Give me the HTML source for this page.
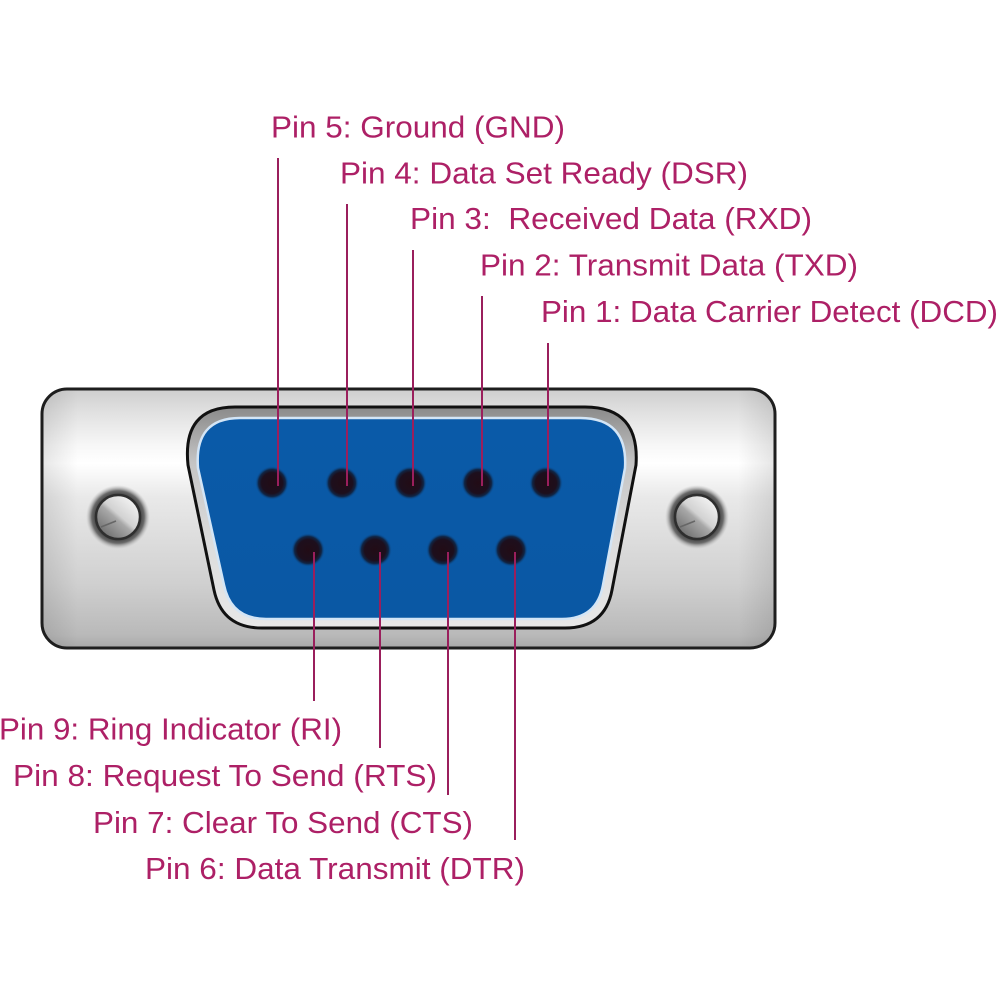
<!DOCTYPE html>
<html>
<head>
<meta charset="utf-8">
<style>
  html, body { margin:0; padding:0; background:#ffffff; }
  svg { display:block; }
  text { font-family: "Liberation Sans", "DejaVu Sans", sans-serif; font-size:30.5px; fill:#ad2066; white-space:pre; }
</style>
</head>
<body>
<svg width="1000" height="1000" viewBox="0 0 1000 1000" xmlns="http://www.w3.org/2000/svg">
  <defs>
    <linearGradient id="shell" x1="0" y1="388" x2="0" y2="648" gradientUnits="userSpaceOnUse">
      <stop offset="0" stop-color="#cdcdcd"/>
      <stop offset="0.08" stop-color="#dedede"/>
      <stop offset="0.22" stop-color="#f7f7f7"/>
      <stop offset="0.29" stop-color="#ffffff"/>
      <stop offset="0.42" stop-color="#e9e9e9"/>
      <stop offset="0.75" stop-color="#d0d0d0"/>
      <stop offset="0.95" stop-color="#b9b9b9"/>
      <stop offset="1" stop-color="#a8a8a8"/>
    </linearGradient>
    <linearGradient id="shellH" x1="41" y1="0" x2="775" y2="0" gradientUnits="userSpaceOnUse">
      <stop offset="0" stop-color="#000" stop-opacity="0.10"/>
      <stop offset="0.05" stop-color="#000" stop-opacity="0"/>
      <stop offset="0.95" stop-color="#000" stop-opacity="0"/>
      <stop offset="1" stop-color="#000" stop-opacity="0.10"/>
    </linearGradient>
    <linearGradient id="bezel" x1="0" y1="407" x2="0" y2="628" gradientUnits="userSpaceOnUse">
      <stop offset="0" stop-color="#8a8a8a"/>
      <stop offset="0.25" stop-color="#c4c4c4"/>
      <stop offset="0.6" stop-color="#dcdcdc"/>
      <stop offset="1" stop-color="#e8e8e8"/>
    </linearGradient>
    <linearGradient id="blue" x1="0" y1="418" x2="0" y2="619" gradientUnits="userSpaceOnUse">
      <stop offset="0" stop-color="#0a5aa8"/>
      <stop offset="1" stop-color="#0a58a4"/>
    </linearGradient>
    <radialGradient id="pin" cx="0.5" cy="0.5" r="0.5">
      <stop offset="0" stop-color="#220c16"/>
      <stop offset="0.62" stop-color="#1d0f1d"/>
      <stop offset="0.8" stop-color="#102646"/>
      <stop offset="1" stop-color="#0a5aa8" stop-opacity="0"/>
    </radialGradient>
    <radialGradient id="screwRing" cx="0.5" cy="0.5" r="0.5">
      <stop offset="0" stop-color="#3a3a3a"/>
      <stop offset="0.7" stop-color="#444"/>
      <stop offset="0.82" stop-color="#6a6a6a"/>
      <stop offset="1" stop-color="#bdbdbd" stop-opacity="0"/>
    </radialGradient>
    <linearGradient id="screwFace" x1="0.85" y1="0.1" x2="0.15" y2="0.9">
      <stop offset="0" stop-color="#f4f4f4"/>
      <stop offset="0.45" stop-color="#d2d2d2"/>
      <stop offset="0.55" stop-color="#a8a8a8"/>
      <stop offset="1" stop-color="#6e6e6e"/>
    </linearGradient>
  </defs>

  <!-- outer shell -->
  <rect x="42" y="389" width="733" height="259" rx="25" ry="25" fill="url(#shell)" stroke="#1e1e1e" stroke-width="3"/>
  <rect x="43.5" y="390.5" width="730" height="256" rx="24" ry="24" fill="url(#shellH)"/>

  <!-- D-shape bezel -->
  <path d="M 235 407 L 585 407 Q 640 407 636 465 L 612 590 Q 605 628 565 628 L 262 628 Q 222 628 214 590 L 188 465 Q 182 407 235 407 Z"
        fill="url(#bezel)" stroke="#111" stroke-width="3"/>
  <path d="M 240 418 L 580 418 Q 628 418 625 468 L 603 585 Q 597 619 562 619 L 266 619 Q 231 619 224 585 L 198 468 Q 194 418 240 418 Z"
        fill="url(#blue)" stroke="#d3e5f6" stroke-width="2.5"/>

  <!-- screws -->
  <g>
    <circle cx="118" cy="517" r="32" fill="url(#screwRing)"/>
    <circle cx="118" cy="517" r="22" fill="url(#screwFace)" stroke="#2e2e2e" stroke-width="2.5"/>
    <path d="M 101 527 L 116 521" stroke="#666" stroke-width="1.5" fill="none"/>
  </g>
  <g>
    <circle cx="697" cy="517" r="32" fill="url(#screwRing)"/>
    <circle cx="697" cy="517" r="22" fill="url(#screwFace)" stroke="#2e2e2e" stroke-width="2.5"/>
    <path d="M 680 527 L 695 521" stroke="#666" stroke-width="1.5" fill="none"/>
  </g>

  <!-- pins top row -->
  <circle cx="272" cy="483" r="17" fill="url(#pin)"/>
  <circle cx="342" cy="483" r="17" fill="url(#pin)"/>
  <circle cx="410" cy="483" r="17" fill="url(#pin)"/>
  <circle cx="478" cy="483" r="17" fill="url(#pin)"/>
  <circle cx="546" cy="483" r="17" fill="url(#pin)"/>
  <!-- pins bottom row -->
  <circle cx="308" cy="550" r="17" fill="url(#pin)"/>
  <circle cx="375" cy="550" r="17" fill="url(#pin)"/>
  <circle cx="443" cy="550" r="17" fill="url(#pin)"/>
  <circle cx="511" cy="550" r="17" fill="url(#pin)"/>

  <!-- leader lines -->
  <g stroke="#9a1f5c" stroke-width="2" fill="none">
    <line x1="278" y1="158" x2="278" y2="486"/>
    <line x1="347" y1="204" x2="347" y2="486"/>
    <line x1="413" y1="250" x2="413" y2="486"/>
    <line x1="482" y1="296" x2="482" y2="486"/>
    <line x1="548" y1="343" x2="548" y2="486"/>

    <line x1="314" y1="552" x2="314" y2="701"/>
    <line x1="380" y1="552" x2="380" y2="748"/>
    <line x1="448" y1="552" x2="448" y2="795"/>
    <line x1="515" y1="552" x2="515" y2="840"/>
  </g>

  <!-- labels -->
  <text x="271" y="137.5" textLength="294" lengthAdjust="spacingAndGlyphs">Pin 5: Ground (GND)</text>
  <text x="340" y="183.5" textLength="408" lengthAdjust="spacingAndGlyphs">Pin 4: Data Set Ready (DSR)</text>
  <text x="410" y="229" textLength="402" lengthAdjust="spacingAndGlyphs">Pin 3:  Received Data (RXD)</text>
  <text x="480" y="275.5" textLength="378" lengthAdjust="spacingAndGlyphs">Pin 2: Transmit Data (TXD)</text>
  <text x="541" y="322" textLength="457" lengthAdjust="spacingAndGlyphs">Pin 1: Data Carrier Detect (DCD)</text>

  <text x="-1" y="739.5" textLength="343" lengthAdjust="spacingAndGlyphs">Pin 9: Ring Indicator (RI)</text>
  <text x="13" y="786" textLength="424" lengthAdjust="spacingAndGlyphs">Pin 8: Request To Send (RTS)</text>
  <text x="93" y="833" textLength="380" lengthAdjust="spacingAndGlyphs">Pin 7: Clear To Send (CTS)</text>
  <text x="145" y="879" textLength="380" lengthAdjust="spacingAndGlyphs">Pin 6: Data Transmit (DTR)</text>
</svg>
</body>
</html>
